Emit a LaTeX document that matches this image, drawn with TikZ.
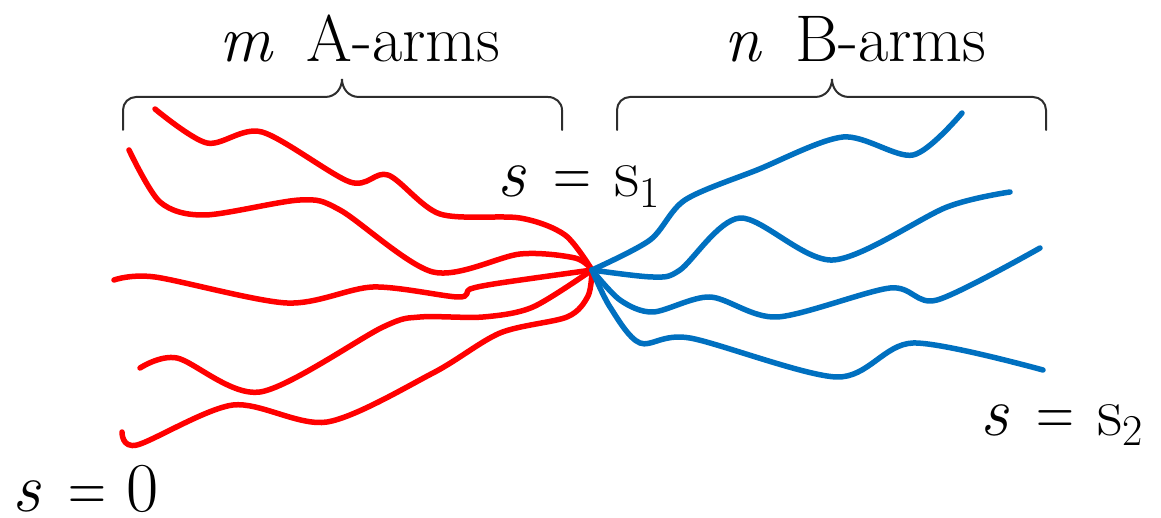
\documentclass[tikz,border=0pt]{standalone}
\usepackage{graphicx}
\definecolor{armred}{RGB}{255,0,0}
\definecolor{armblue}{RGB}{0,112,192}
\definecolor{bracegray}{RGB}{45,45,45}
\tikzset{
  redarm/.style={draw=armred, line width=5.5pt, line cap=round, line join=round},
  bluearm/.style={draw=armblue, line width=5.5pt, line cap=round, line join=round},
  bracestyle/.style={draw=bracegray, line width=2pt, line cap=round},
  headlab/.style={inner sep=0pt, anchor=base west, font=\fontsize{66}{66}\selectfont},
  slab/.style={inner sep=0pt, anchor=base west, font=\fontsize{70}{70}\selectfont}
}
\newcommand\myscript[2]{\raisebox{-#1pt}{\fontsize{44}{44}\selectfont #2}}
\newcommand\myeq{\scalebox{0.75}[1]{=}}
\begin{document}
\begin{tikzpicture}[x=1pt,y=-1pt]
\useasboundingbox (0,0) rectangle (1161,518);
\coordinate (hub) at (592,270);
% braces
\draw[bracestyle] (123,130) -- (123,110) to[out=90,in=180] (136,97) -- (325,97)
  .. controls (336,97) and (342,88) .. (342,79)
  .. controls (342,88) and (348,97) .. (359,97) -- (548,97) to[out=0,in=90] (562,110) -- (562,130);
\draw[bracestyle] (617,130) -- (617,110) to[out=90,in=180] (630,97) -- (815,97)
  .. controls (826,97) and (832,88) .. (832,79)
  .. controls (832,88) and (838,97) .. (849,97) -- (1033,97) to[out=0,in=90] (1046,110) -- (1046,130);
% headings
\node[headlab] (ha) at (219,62) {\textit{m}\hspace{0.5em}A-arms};
\node[headlab] (hb) at (724,62) {\textit{n}\hspace{0.5em}B-arms};
% red arms
\draw[redarm] plot[smooth] coordinates {(155,109) (207,143) (262,132) (350,182) (388,175) (440,214) (520,218) (565,235) (hub)};
\draw[redarm] plot[smooth] coordinates {(129,150) (160,202) (205,215) (300,200) (340,210) (433,272) (520,254) (575,258) (hub)};
\draw[redarm] plot[smooth] coordinates {(114,280) (155,277) (287,303) (373,287) (458,297) (470,289) (500,283) (hub)};
\draw[redarm] plot[smooth] coordinates {(140,368) (177,358) (260,392) (383,327) (420,317) (483,317) (533,307) (hub)};
\draw[redarm] plot[smooth] coordinates {(122,432) (137,445) (233,405) (327,422) (433,373) (500,333) (567,317) (588,296) (hub)};
% blue arms
\draw[bluearm] plot[smooth] coordinates {(hub) (650,240) (685,200) (757,170) (843,137) (913,155) (962,113)};
\draw[bluearm] plot[smooth] coordinates {(hub) (653,277) (680,270) (740,218) (833,260) (947,207) (1010,192)};
\draw[bluearm] plot[smooth] coordinates {(hub) (620,300) (653,312) (710,297) (777,317) (890,288) (937,300) (1040,248)};
\draw[bluearm] plot[smooth] coordinates {(hub) (610,307) (640,343) (690,338) (837,377) (913,343) (1043,370)};
% labels
\node[slab] (s1) at (497,197) {\textit{s}\hspace{0.4em}\myeq\hspace{0.32em}s\myscript{11}{1}};
\node[slab] (s0) at (12,511) {\textit{s}\hspace{0.4em}\myeq\hspace{0.28em}0};
\node[slab] (s2) at (980,435) {\textit{s}\hspace{0.4em}\myeq\hspace{0.32em}s\myscript{10}{2}};
\end{tikzpicture}
\end{document}
